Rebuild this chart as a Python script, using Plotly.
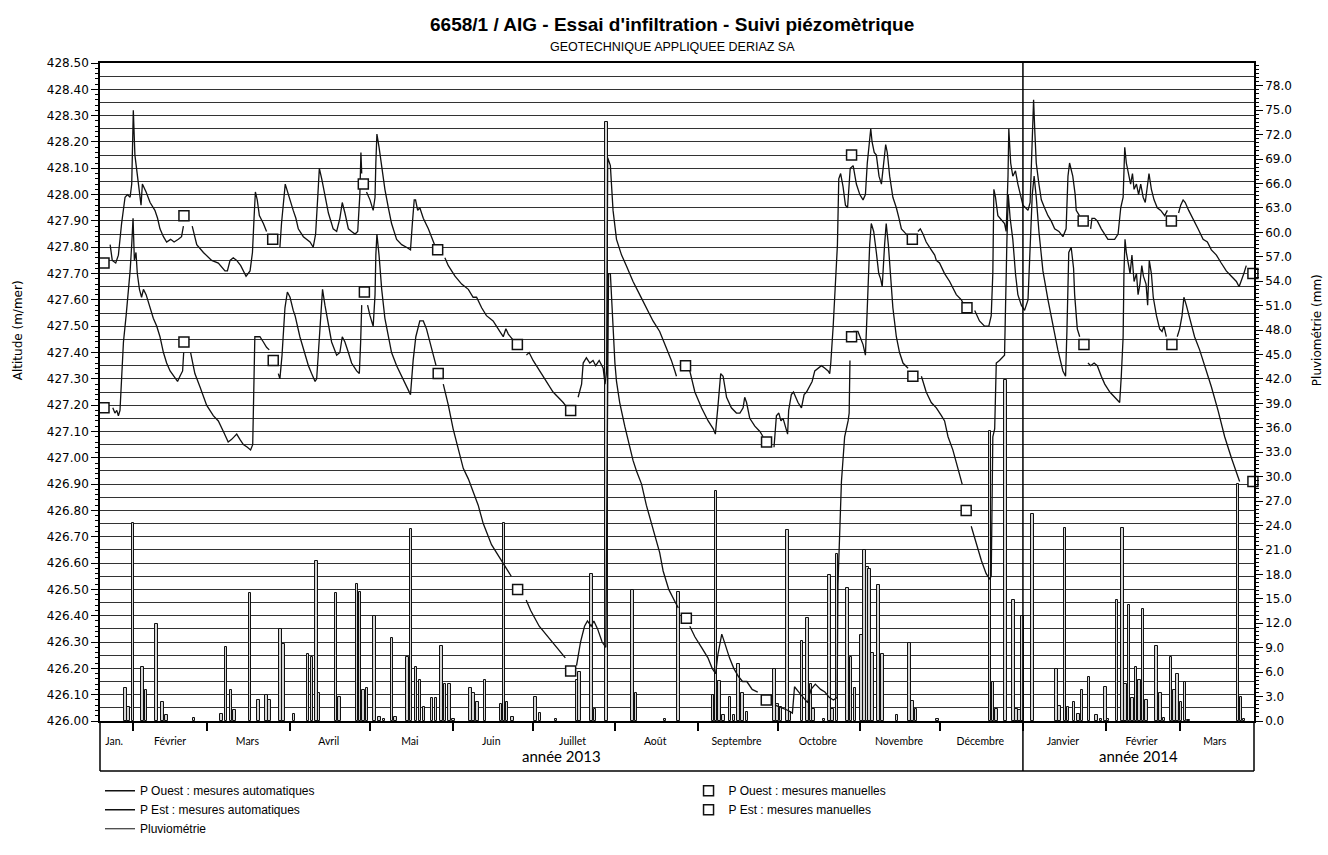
import pandas as pd
import plotly.graph_objects as go

# Jours comptés depuis le 1er janvier 2013
ORIGINE = pd.Timestamp("2013-01-01")
JOUR_DEBUT = 18.7
JOUR_FIN = 451.7

# P Ouest : mesures automatiques (altitude m/mer)
OUEST_JOUR = [
    22.5, 23.3, 24.6, 25.6, 26.8, 28.1, 29.0, 30.0, 30.6, 31.2,
    31.8, 32.7, 33.5, 34.1, 34.6, 36.0, 37.5, 39.3, 40.3, 41.2,
    42.5, 43.7, 45.2, 46.5, 48.1, 49.3, 50.0, 51.6, 53.3, 55.0,
    57.5, 60.6, 63.1, 65.6, 66.5, 67.5, 68.7, 70.0, 71.5, 73.5,
    75.0, 75.9, 76.5, 77.0, 77.7, 78.5, 80.0, 81.2, 83.5, 86.2,
    86.8, 88.2, 89.3, 91.2, 92.2, 93.1, 95.0, 96.2, 97.5, 98.7,
    99.6, 100.4, 101.0, 101.9, 103.1, 104.4, 106.2, 107.5, 108.7, 109.6,
    110.6, 111.9, 113.1, 114.4, 115.4, 116.2, 116.6, 116.9, 117.5, 118.7,
    120.0, 121.2, 121.9, 122.2, 122.6, 123.4, 124.4, 125.6, 126.9, 128.1,
    130.0, 131.9, 133.7, 135.2, 135.9, 136.6, 137.1, 137.9, 138.7, 140.0,
    141.9, 143.7, 144.6, 145.6, 148.1, 149.4, 151.9, 154.4, 156.9, 158.7,
    160.0, 161.9, 163.7, 166.2, 168.7, 170.0, 171.0, 171.9, 173.5, 175.3,
    178.7, 179.7, 181.2, 183.7, 186.2, 188.7, 190.6, 192.5, 194.0, 195.3,
    198.1, 199.4, 200.0, 201.2, 202.5, 203.7, 204.7, 206.0, 207.5, 208.2,
    208.8, 209.2, 210.2, 211.2, 212.5, 214.4, 216.2, 218.7, 221.2, 223.7,
    226.2, 228.7, 231.2, 233.1, 234.4, 235.0, 237.0, 240.0, 241.9, 244.4,
    246.9, 248.8, 249.6, 250.6, 251.6, 252.5, 253.8, 255.6, 257.5, 258.8,
    260.0, 260.6, 261.3, 262.5, 264.4, 266.3, 267.5, 269.0, 271.6, 272.5,
    273.4, 274.2, 275.0, 275.9, 276.7, 277.1, 278.1, 278.9, 279.7, 280.6,
    281.9, 282.9, 283.8, 285.0, 285.9, 286.9, 288.2, 289.4, 290.7, 291.9,
    292.5, 292.9, 293.8, 294.4, 295.4, 295.9, 296.6, 297.5, 298.4, 299.2,
    299.7, 300.2, 301.3, 302.5, 303.8, 305.0, 305.9, 306.6, 307.3, 307.9,
    308.4, 309.2, 310.0, 311.0, 311.9, 312.7, 313.5, 314.1, 315.0, 316.2,
    317.5, 318.5, 319.4, 321.2, 322.3, 323.5, 325.6, 326.5, 327.5, 328.7,
    330.6, 331.9, 332.5, 333.7, 335.6, 337.5, 340.0, 341.9, 342.9, 344.0,
    346.9, 348.7, 350.6, 352.2, 353.1, 353.7, 354.1, 354.7, 355.6, 356.5,
    357.5, 358.1, 358.7, 359.4, 359.7, 360.4, 361.2, 362.2, 363.1, 364.4,
    365.0, 366.0, 366.9, 367.7, 368.5, 369.0, 369.5, 370.0, 371.0, 371.9,
    373.1, 374.4, 375.6, 376.9, 378.5, 380.0, 381.2, 381.9, 382.5, 383.7,
    384.6, 385.0, 386.2, 387.6, 390.4, 390.9, 391.9, 392.9, 394.4, 395.7,
    396.9, 398.2, 399.4, 400.7, 401.7, 402.6, 403.2, 403.8, 404.7, 405.4,
    406.1, 406.7, 407.6, 408.4, 409.2, 410.1, 410.9, 411.7, 412.3, 413.2,
    414.2, 415.4, 416.7, 418.2, 419.2, 420.7, 423.4, 424.2, 425.1, 425.9,
    427.2, 428.8, 430.7, 432.6, 434.2, 435.7, 437.6, 439.4, 441.3, 443.2,
    445.1, 446.1, 446.9, 447.9, 448.8,
]
OUEST_NIVEAU = [
    427.81, 427.75, 427.74, 427.77, 427.89, 427.99, 428.00, 427.99, 428.04, 428.32,
    428.15, 428.07, 428.02, 427.96, 428.04, 428.01, 427.97, 427.94, 427.91, 427.87,
    427.84, 427.82, 427.83, 427.82, 427.83, 427.84, 427.88, None, 427.88, 427.81,
    427.78, 427.75, 427.74, 427.71, 427.71, 427.75, 427.76, 427.75, 427.73, 427.69,
    427.71, 427.78, 427.91, 428.01, 427.98, 427.92, 427.89, 427.86, None, 427.80,
    427.89, 428.04, 428.00, 427.94, 427.91, 427.87, 427.84, 427.83, 427.82, 427.80,
    427.85, 427.99, 428.10, 428.06, 427.99, 427.93, 427.87, 427.86, 427.91, 427.97,
    427.93, 427.87, 427.86, 427.85, 427.86, 428.00, 428.16, 428.08, None, 428.01,
    427.98, 427.94, 427.99, 428.12, 428.23, 428.18, 428.10, 428.02, 427.95, 427.89,
    427.83, 427.81, 427.80, 427.79, 427.89, 427.98, 427.98, 427.94, 427.95, 427.91,
    427.87, 427.82, 427.80, None, 427.76, 427.73, 427.69, 427.66, 427.64, 427.61,
    427.61, 427.57, 427.54, 427.52, 427.48, 427.46, 427.49, 427.47, 427.45, None,
    427.39, 427.40, 427.37, 427.33, 427.29, 427.25, 427.23, 427.21, 427.19, None,
    427.23, 427.28, 427.36, 427.38, 427.36, 427.37, 427.35, 427.37, 427.34, 427.28,
    427.33, 428.14, 428.11, 427.94, 427.83, 427.77, 427.73, 427.67, 427.62, 427.57,
    427.52, 427.48, 427.42, 427.37, 427.33, 427.31, None, 427.33, 427.25, 427.19,
    427.14, 427.11, 427.09, 427.20, 427.32, 427.31, 427.23, 427.19, 427.17, 427.17,
    427.19, 427.23, 427.21, 427.15, 427.12, 427.10, 427.08, None, 427.04, 427.16,
    427.17, 427.14, 427.15, 427.12, 427.09, 427.18, 427.24, 427.25, 427.23, 427.21,
    427.19, 427.24, 427.25, 427.27, 427.29, 427.33, 427.34, 427.35, 427.34, 427.33,
    427.32, 427.36, 427.50, 427.61, 427.81, 428.06, 428.08, 428.03, 427.96, 427.95,
    428.04, 428.10, 428.11, 428.04, 428.00, 427.98, 428.00, 428.12, 428.19, 428.25,
    428.20, 428.16, 428.15, 428.07, 428.04, 428.12, 428.19, 428.16, 428.07, 427.99,
    427.95, 427.91, 427.87, 427.85, 427.84, None, 427.86, 427.87, 427.85, 427.82,
    427.79, 427.77, 427.75, 427.74, 427.70, 427.67, 427.62, 427.60, 427.58, None,
    427.56, 427.52, 427.50, 427.50, 427.54, 427.70, 428.02, 427.99, 427.92, 427.91,
    427.90, 427.89, 427.86, 428.07, 428.25, 428.12, 428.07, 428.09, 428.04, 427.99,
    427.96, 427.95, 427.94, 427.97, 428.19, 428.36, 428.23, 428.12, 428.04, 427.98,
    427.95, 427.92, 427.90, 427.87, 427.86, 427.84, 427.87, 428.07, 428.12, 428.07,
    428.00, 427.94, 427.92, None, 427.87, 427.91, 427.91, 427.90, 427.87, 427.85,
    427.83, 427.83, 427.83, 427.85, 427.95, 427.99, 428.18, 428.12, 428.07, 428.04,
    428.08, 428.02, 428.04, 428.00, 428.04, 427.99, 427.97, 428.03, 428.08, 428.02,
    427.98, 427.95, 427.94, 427.92, 427.94, None, 427.93, 427.96, 427.98, 427.97,
    427.94, 427.91, 427.87, 427.83, 427.82, 427.79, 427.77, 427.74, 427.71, 427.69,
    427.67, 427.65, 427.67, 427.70, 427.73,
]

# P Est : mesures automatiques (altitude m/mer)
EST_JOUR = [
    23.5, 24.3, 25.0, 25.6, 26.2, 26.8, 27.5, 28.5, 29.3, 30.0,
    30.6, 31.1, 31.6, 32.2, 32.7, 33.5, 34.3, 35.0, 36.0, 37.5,
    38.7, 40.0, 41.2, 42.5, 43.7, 45.0, 46.5, 47.8, 48.7, 49.7,
    50.1, 51.4, 52.7, 54.3, 56.2, 58.7, 61.2, 63.1, 65.0, 66.8,
    68.1, 70.0, 71.2, 72.5, 74.0, 75.2, 76.0, 76.3, 76.8, 77.7,
    78.7, 80.0, 81.2, 82.2, 83.7, 85.6, 86.2, 87.0, 88.1, 89.0,
    90.0, 91.2, 91.9, 93.7, 95.6, 96.9, 98.1, 99.4, 100.0, 100.9,
    101.6, 102.2, 103.1, 104.4, 105.6, 107.5, 108.7, 109.6, 110.6, 111.9,
    113.1, 115.0, 116.0, 116.5, 116.9, 117.9, 119.1, 120.0, 121.2, 121.9,
    122.2, 122.6, 123.4, 124.4, 125.6, 126.9, 128.1, 130.0, 131.9, 133.7,
    135.2, 136.2, 137.2, 138.7, 140.0, 141.2, 142.5, 143.7, 144.8, 145.6,
    147.5, 149.4, 151.2, 153.1, 155.0, 156.9, 158.7, 160.6, 162.5, 164.4,
    165.6, 168.7, 171.0, 173.0, 175.4, 178.6, 180.3, 183.5, 188.4, 193.3,
    195.3, 197.5, 199.0, 200.5, 201.6, 203.0, 204.0, 205.4, 207.1, 208.5,
    209.5, 210.2, 210.7, 211.2, 211.9, 212.5, 213.7, 215.6, 217.5, 218.7,
    220.0, 221.9, 223.7, 226.2, 228.7, 230.0, 232.1, 234.6, 235.7, 238.7,
    240.0, 241.9, 244.4, 246.8, 248.4, 249.7, 250.5, 252.0, 253.3, 254.9,
    256.5, 258.2, 259.8, 261.4, 263.4, 265.5, 268.7, 272.0, 274.4, 276.9,
    278.5, 279.3, 280.9, 282.6, 284.2, 285.5, 287.1, 289.1, 290.7, 292.3,
    293.9, 295.3, 295.6, 296.9, 298.1, 299.4, 299.8, 300.1, 300.7, 301.3,
    303.1, 305.0, 305.9, 306.6, 307.5, 308.1, 309.0, 310.0, 310.9, 311.6,
    312.2, 313.1, 313.7, 314.5, 315.2, 316.2, 317.5, 318.7, 320.0, 321.9,
    323.7, 326.9, 328.7, 330.6, 332.5, 334.4, 335.6, 336.9, 338.7, 340.6,
    342.2, 343.7, 345.6, 347.5, 349.4, 351.2, 352.5, 353.1, 353.7, 354.4,
    355.0, 356.2, 358.1, 359.0, 359.5, 360.2, 361.2, 362.2, 363.1, 364.4,
    365.6, 366.9, 367.7, 368.5, 369.2, 370.0, 371.0, 372.5, 374.4, 376.2,
    378.1, 380.0, 381.0, 381.5, 382.2, 383.1, 384.0, 384.4, 385.4, 386.3,
    387.9, 389.4, 390.4, 391.7, 392.9, 394.4, 395.7, 397.6, 399.4, 401.3,
    401.9, 402.6, 402.9, 403.3, 403.8, 404.4, 405.2, 405.9, 406.7, 407.6,
    408.2, 408.9, 409.6, 410.2, 411.2, 411.8, 412.4, 413.2, 413.9, 415.1,
    416.3, 417.2, 417.9, 418.8, 420.9, 422.9, 423.8, 424.7, 425.4, 426.3,
    427.6, 429.4, 431.3, 433.2, 435.7, 438.2, 440.7, 443.2, 445.1, 446.3,
]
EST_NIVEAU = [
    427.19, 427.17, 427.18, 427.16, 427.18, 427.31, 427.44, 427.54, 427.62, 427.71,
    427.81, 427.91, 427.75, 427.78, 427.70, 427.64, 427.61, 427.64, 427.62, 427.57,
    427.53, 427.50, 427.46, 427.40, 427.36, 427.33, 427.31, 427.29, 427.31, 427.33,
    427.40, None, 427.40, 427.32, 427.27, 427.20, 427.16, 427.14, 427.10, 427.06,
    427.07, 427.09, 427.07, 427.05, 427.04, 427.03, 427.05, 427.24, 427.46, 427.46,
    427.46, 427.44, 427.42, 427.41, None, 427.32, 427.30, 427.39, 427.57, 427.63,
    427.61, 427.56, 427.54, 427.46, 427.39, 427.35, 427.32, 427.29, 427.30, 427.44,
    427.57, 427.64, 427.58, 427.50, 427.44, 427.39, 427.40, 427.46, 427.44, 427.40,
    427.36, 427.33, 427.32, 427.44, 427.58, None, 427.58, 427.54, 427.50, 427.62,
    427.77, 427.85, 427.77, 427.64, 427.53, 427.46, 427.40, 427.35, 427.31, 427.27,
    427.24, 427.37, 427.46, 427.52, 427.52, 427.49, 427.44, 427.39, 427.35, None,
    427.28, 427.20, 427.11, 427.03, 426.96, 426.92, 426.87, 426.82, 426.75, 426.70,
    426.67, 426.62, 426.58, 426.55, None, 426.46, 426.42, 426.36, 426.30, 426.24,
    None, 426.21, 426.30, 426.36, 426.38, 426.36, 426.38, 426.35, 426.30, 426.28,
    427.70, 427.70, 427.60, 427.46, 427.36, 427.29, 427.21, 427.12, 427.04, 426.99,
    426.95, 426.90, 426.82, 426.73, 426.64, 426.57, 426.50, 426.45, 426.43, None,
    426.36, 426.32, 426.28, 426.24, 426.20, 426.18, 426.25, 426.33, 426.29, 426.24,
    426.20, 426.17, 426.15, 426.15, 426.12, 426.11, None, 426.06, 426.05, 426.04,
    426.03, 426.13, 426.11, 426.09, 426.07, 426.12, 426.14, 426.12, 426.11, 426.09,
    426.08, 426.09, 426.52, 426.91, 427.08, 427.14, 427.17, 427.37, None, 427.48,
    427.48, 427.43, 427.39, 427.57, 427.81, 427.89, 427.86, 427.78, 427.70, 427.68,
    427.65, 427.81, 427.89, 427.81, 427.71, 427.57, 427.46, 427.40, 427.36, 427.34,
    None, 427.31, 427.25, 427.21, 427.19, 427.16, 427.14, 427.08, 427.03, 426.96,
    426.90, None, 426.74, 426.67, 426.61, 426.56, 426.54, 426.55, 427.08, 427.11,
    427.36, 427.37, 427.39, 427.83, 428.00, 427.91, 427.83, 427.70, 427.62, 427.58,
    427.56, 427.60, 427.83, 428.00, 428.07, 427.99, 427.86, 427.71, 427.60, 427.50,
    427.41, 427.33, 427.31, 427.48, 427.78, 427.80, 427.72, 427.62, 427.49, 427.46,
    None, 427.36, 427.35, 427.36, 427.35, 427.31, 427.28, 427.25, 427.23, 427.21,
    427.31, 427.46, 427.70, 427.83, 427.78, 427.74, 427.70, 427.77, 427.67, 427.70,
    427.62, 427.66, 427.73, 427.69, 427.66, 427.58, 427.75, 427.70, 427.61, 427.54,
    427.49, 427.48, 427.50, 427.46, None, 427.46, 427.49, 427.54, 427.61, 427.58,
    427.53, 427.46, 427.41, 427.35, 427.27, 427.18, 427.08, 427.00, 426.94, 426.91,
]

# Mesures manuelles
OUEST_MAN_JOUR = [20.2, 50.2, 83.5, 117.5, 145.4, 175.3, 195.3, 238.4,
                  268.8, 300.7, 323.5, 344.0, 387.6, 420.7, 451.3]
OUEST_MAN_NIVEAU = [427.74, 427.92, 427.83, 428.04, 427.79, 427.43, 427.18, 427.35,
                    427.06, 428.15, 427.83, 427.57, 427.90, 427.90, 427.70]
EST_MAN_JOUR = [20.2, 50.2, 83.7, 117.9, 145.6, 175.4, 195.3, 238.7,
                268.7, 300.7, 323.7, 343.7, 387.9, 420.9, 451.3]
EST_MAN_NIVEAU = [427.19, 427.44, 427.37, 427.63, 427.32, 426.50, 426.19, 426.39,
                  426.08, 427.46, 427.31, 426.80, 427.43, 427.43, 426.91]

# Pluviométrie journalière (mm)
PLUIE_JOUR = [
    28.2, 29.4, 31.0, 34.7, 35.9, 39.8, 42.2, 43.7, 53.9, 64.3,
    65.9, 67.9, 69.1, 75.0, 78.1, 81.2, 82.3, 86.4, 87.5, 91.5,
    96.7, 98.2, 100.0, 100.8, 107.3, 108.6, 115.1, 116.2, 117.5, 118.8,
    121.7, 123.5, 125.2, 128.2, 129.5, 134.1, 135.4, 137.3, 138.8, 140.3,
    143.3, 144.8, 146.9, 148.2, 149.8, 151.3, 157.8, 158.9, 160.4, 163.1,
    169.2, 170.3, 171.4, 173.5, 182.1, 183.8, 189.8, 197.6, 198.7, 203.2,
    204.4, 208.8, 218.5, 219.8, 230.7, 235.7, 248.7, 249.9, 251.2, 252.7,
    255.1, 256.6, 258.3, 259.8, 261.4, 271.7, 273.0, 274.3, 276.6, 277.6,
    282.1, 284.1, 285.4, 286.5, 290.4, 292.4, 293.5, 295.3, 299.1, 300.4,
    301.9, 304.5, 305.6, 306.6, 307.4, 308.5, 310.9, 312.4, 317.7, 322.4,
    323.5, 324.8, 333.0, 352.6, 353.8, 355.1, 358.4, 361.4, 362.5, 363.7,
    364.8, 368.6, 377.5, 378.7, 380.7, 381.9, 384.2, 385.8, 387.2, 389.8,
    392.7, 394.3, 396.0, 396.9, 400.3, 402.3, 403.4, 404.8, 406.1, 407.5,
    408.8, 410.1, 411.4, 415.1, 416.6, 417.9, 420.5, 421.8, 423.0, 424.3,
    425.8, 427.1, 445.7, 446.8, 447.9,
]
PLUIE_MM = [
    4.0, 1.7, 24.3, 6.6, 3.8, 11.9, 2.3, 0.7, 0.4, 0.9,
    9.1, 3.8, 1.4, 15.7, 2.6, 3.2, 2.6, 11.3, 9.4, 0.8,
    8.2, 7.8, 19.7, 3.4, 15.7, 3.0, 16.8, 15.9, 3.8, 4.0,
    12.9, 0.5, 0.3, 10.2, 0.5, 7.8, 23.6, 6.6, 5.0, 1.7,
    2.8, 2.8, 9.2, 4.6, 4.6, 0.3, 4.0, 3.4, 2.3, 5.0,
    2.1, 24.3, 2.3, 0.5, 3.0, 1.0, 0.2, 5.0, 6.0, 18.1,
    1.5, 73.5, 16.1, 3.4, 0.2, 15.9, 3.2, 28.2, 4.9, 0.7,
    3.0, 0.7, 7.0, 3.4, 1.1, 6.4, 2.1, 1.7, 23.4, 1.1,
    9.8, 12.7, 4.6, 1.5, 0.3, 17.9, 1.5, 20.5, 16.3, 7.8,
    4.0, 10.6, 21.0, 18.9, 18.7, 8.4, 16.7, 8.2, 0.7, 9.6,
    2.5, 1.5, 0.3, 35.6, 4.8, 1.5, 41.9, 14.9, 1.5, 1.3,
    12.9, 25.4, 6.4, 1.9, 23.7, 1.7, 2.3, 0.9, 3.8, 5.4,
    0.7, 0.3, 4.2, 0.3, 14.9, 23.7, 4.6, 14.3, 2.8, 6.6,
    5.0, 13.7, 2.6, 9.2, 3.4, 0.4, 7.8, 3.8, 5.8, 2.3,
    4.8, 0.1, 29.1, 3.0, 0.3,
]

# Libellés des mois (placés au milieu de chaque mois visible)
MOIS_POS = ["2013-01-25", "2013-02-15", "2013-03-16", "2013-04-15 12:00",
            "2013-05-16", "2013-06-15 12:00", "2013-07-16", "2013-08-16",
            "2013-09-15 12:00", "2013-10-16", "2013-11-15 12:00", "2013-12-16",
            "2014-01-16", "2014-02-14 12:00", "2014-03-14"]
MOIS_NOMS = ["Jan.", "Février", "Mars", "Avril", "Mai", "Juin", "Juillet", "Août",
             "Septembre", "Octobre", "Novembre", "Décembre", "Janvier", "Février", "Mars"]


def en_dates(jours):
    return [ORIGINE + pd.Timedelta(days=j) for j in jours]


NOIR = "#111111"
GRILLE = "#333333"
BAS_CADRE = -0.076

fig = go.Figure()

# Pluviométrie : barres journalières sur l'axe de droite
fig.add_trace(go.Bar(
    x=en_dates(PLUIE_JOUR), y=PLUIE_MM, yaxis="y",
    width=[86400000 * 0.95] * len(PLUIE_JOUR),
    marker=dict(color="#d4d4d4", line=dict(color=NOIR, width=1)),
    showlegend=False, name="Pluviométrie",
))

fig.add_trace(go.Scatter(
    x=en_dates(OUEST_JOUR), y=OUEST_NIVEAU, yaxis="y2", mode="lines",
    line=dict(color=NOIR, width=1.3), name="P Ouest : mesures automatiques",
    legend="legend",
))
fig.add_trace(go.Scatter(
    x=en_dates(EST_JOUR), y=EST_NIVEAU, yaxis="y2", mode="lines",
    line=dict(color=NOIR, width=1.3), name="P Est : mesures automatiques",
    legend="legend",
))
# entrée de légende de la pluviométrie (tracée en trait)
fig.add_trace(go.Scatter(
    x=[None], y=[None], yaxis="y3", mode="lines",
    line=dict(color=NOIR, width=1), name="Pluviométrie", legend="legend",
))
fig.add_trace(go.Scatter(
    x=en_dates(OUEST_MAN_JOUR), y=OUEST_MAN_NIVEAU, yaxis="y2", mode="markers",
    marker=dict(symbol="square", size=10, color="white", line=dict(color=NOIR, width=1.5)),
    name="P Ouest : mesures manuelles", legend="legend2", cliponaxis=False,
))
fig.add_trace(go.Scatter(
    x=en_dates(EST_MAN_JOUR), y=EST_MAN_NIVEAU, yaxis="y2", mode="markers",
    marker=dict(symbol="square", size=10, color="white", line=dict(color=NOIR, width=1.5)),
    name="P Est : mesures manuelles", legend="legend2", cliponaxis=False,
))

debut = ORIGINE + pd.Timedelta(days=JOUR_DEBUT)
fin = ORIGINE + pd.Timedelta(days=JOUR_FIN)

police_axes = dict(family="DejaVu Sans", size=12, color="black")

fig.update_layout(
    width=1328, height=855,
    margin=dict(l=100, r=74, t=63, b=109),
    paper_bgcolor="white", plot_bgcolor="white",
    font=dict(family="DejaVu Sans", size=12, color="black"),
    bargap=0,
    xaxis=dict(
        type="date", range=[debut, fin],
        showline=True, linecolor="black", linewidth=1.5, mirror=True,
        showgrid=False, zeroline=False,
        tickmode="array", tickvals=MOIS_POS, ticktext=MOIS_NOMS, ticks="",
        tickfont=dict(family="Lato", size=10.5, color="black"),
        ticklabelstandoff=10,
        minor=dict(tick0="2013-01-01", dtick="M1", ticks="outside", ticklen=8,
                   tickwidth=1.5, tickcolor="black", showgrid=False),
    ),
    yaxis=dict(
        side="right", range=[0, 80.8], tick0=0, dtick=3, tickformat=".1f",
        ticks="outside", ticklen=7, tickcolor="black",
        minor=dict(dtick=0.5, ticks="outside", ticklen=3, tickcolor="black", showgrid=False),
        showline=True, linecolor="black", linewidth=1.5,
        showgrid=False, zeroline=False, tickfont=police_axes,
    ),
    yaxis2=dict(
        overlaying="y", side="left", range=[426.0, 428.5], tick0=426.0, dtick=0.1,
        tickformat=".2f", ticks="outside", ticklen=7, tickcolor="black",
        showline=True, linecolor="black", linewidth=1.5,
        showgrid=True, gridcolor=GRILLE, gridwidth=1.3, zeroline=False,
        minor=dict(tick0=426.0, dtick=0.05, ticks="", showgrid=True,
                   gridcolor=GRILLE, gridwidth=1.3),
        tickfont=police_axes,
    ),
    yaxis3=dict(
        overlaying="y", side="left", range=[426.0, 428.5], tick0=426.0, dtick=0.02,
        ticks="outside", ticklen=4, tickcolor="black", showticklabels=False,
        showgrid=False, showline=False, zeroline=False,
    ),
    legend=dict(
        x=0.0, y=-0.084, xanchor="left", yanchor="top",
        font=dict(family="Liberation Sans", size=12, color="black"),
        tracegroupgap=0, bgcolor="rgba(0,0,0,0)", itemclick=False,
    ),
    legend2=dict(
        x=0.51, y=-0.084, xanchor="left", yanchor="top",
        font=dict(family="Liberation Sans", size=12, color="black"),
        tracegroupgap=0, bgcolor="rgba(0,0,0,0)", itemclick=False,
    ),
    annotations=[
        dict(text="<b>6658/1 / AIG - Essai d'infiltration - Suivi piézomètrique</b>",
             xref="paper", yref="paper", x=0.496, y=1.059, showarrow=False,
             xanchor="center", yanchor="middle",
             font=dict(family="Liberation Sans", size=19, color="black")),
        dict(text="GEOTECHNIQUE APPLIQUEE DERIAZ SA",
             xref="paper", yref="paper", x=0.496, y=1.024, showarrow=False,
             xanchor="center", yanchor="middle",
             font=dict(family="Liberation Sans", size=12.5, color="black")),
        dict(text="Altitude (m/mer)", xref="paper", yref="paper",
             x=-0.071, y=0.594, textangle=-90, showarrow=False,
             xanchor="center", yanchor="middle", font=police_axes),
        dict(text="Pluviométrie (mm)", xref="paper", yref="paper",
             x=1.0546, y=0.594, textangle=-90, showarrow=False,
             xanchor="center", yanchor="middle", font=police_axes),
        dict(text="année 2013", xref="paper", yref="paper", x=0.40, y=-0.053,
             showarrow=False, xanchor="center", yanchor="middle",
             font=dict(family="Lato", size=15, color="black")),
        dict(text="année 2014", xref="paper", yref="paper", x=0.90, y=-0.053,
             showarrow=False, xanchor="center", yanchor="middle",
             font=dict(family="Lato", size=15, color="black")),
    ],
    shapes=[
        dict(type="line", xref="x", yref="paper", x0="2014-01-01", x1="2014-01-01",
             y0=BAS_CADRE, y1=1, line=dict(color="black", width=1.5)),
        dict(type="line", xref="paper", yref="paper", x0=0, x1=1,
             y0=BAS_CADRE, y1=BAS_CADRE, line=dict(color="black", width=1.5)),
        dict(type="line", xref="paper", yref="paper", x0=0, x1=0,
             y0=BAS_CADRE, y1=0, line=dict(color="black", width=1.5)),
        dict(type="line", xref="paper", yref="paper", x0=1, x1=1,
             y0=BAS_CADRE, y1=0, line=dict(color="black", width=1.5)),
    ],
)

fig.write_html("out.html")
